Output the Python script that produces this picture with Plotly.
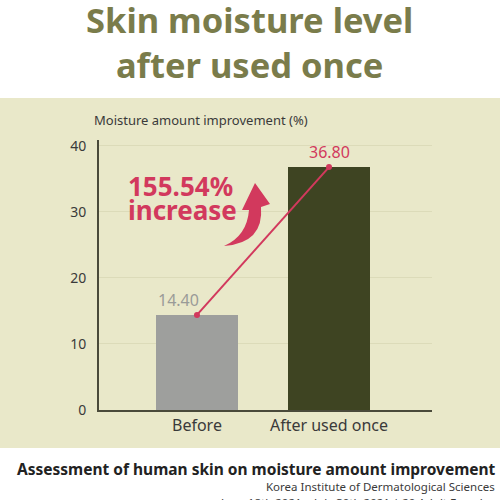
import plotly.graph_objects as go

# Data
categories = ["Before", "After used once"]
values = [14.40, 36.80]
value_labels = ["14.40", "36.80"]
increase_lines = ["155.54%", "increase"]
y_ticks = [0, 10, 20, 30, 40]

# Colours
PANEL = "#e9e8c9"
TITLE = "#7a7c4b"
GRAY_BAR = "#9e9f9d"
DARK_BAR = "#3e4422"
CRIMSON = "#d2395d"
TEXT = "#3a3a3a"

W, H = 500, 500
L, R, T, B = 99, 68, 140, 90
PW, PH = W - L - R, H - T - B


def px(x):
    return (x - L) / PW


def py(y):
    return (H - B - y) / PH


fig = go.Figure()

fig.add_trace(go.Bar(
    x=[0, 1], y=values,
    marker=dict(color=[GRAY_BAR, DARK_BAR], line=dict(width=0)),
    width=0.614, hoverinfo="skip", showlegend=False,
))

# connecting line between bar tops
fig.add_trace(go.Scatter(
    x=[0, 1], y=values, mode="lines+markers",
    line=dict(color=CRIMSON, width=2),
    marker=dict(color=CRIMSON, size=6),
    hoverinfo="skip", showlegend=False,
))

# value labels
fig.add_annotation(x=-0.14, y=values[0], text=value_labels[0], showarrow=False,
                   yanchor="bottom", yshift=2, font=dict(size=16, color="#9a9b98", family="Noto Sans"))
fig.add_annotation(x=1, y=values[1], text=value_labels[1], showarrow=False,
                   yanchor="bottom", yshift=2, font=dict(size=16, color=CRIMSON, family="Noto Sans"))

shapes = [
    # beige panel
    dict(type="rect", xref="paper", yref="paper", x0=px(0), x1=px(500), y0=py(448), y1=py(98),
         fillcolor=PANEL, line=dict(width=0), layer="below"),
    # curved arrow
    dict(type="path", xref="paper", yref="paper",
         path=(f"M {px(224)},{py(246)} "
               f"Q {px(247)},{py(236)} {px(249)},{py(210)} "
               f"L {px(242)},{py(210)} L {px(255)},{py(183)} L {px(270)},{py(204)} "
               f"L {px(261)},{py(207)} "
               f"Q {px(264)},{py(243)} {px(224)},{py(246)} Z"),
         fillcolor=CRIMSON, line=dict(width=0)),
]

annotations = [
    dict(x=px(249), y=py(-6), xref="paper", yref="paper", xanchor="center", yanchor="top",
         text="Skin moisture level<br>after used once", showarrow=False, align="center",
         font=dict(size=34.5, color=TITLE, family="Noto Sans", weight="bold")),
    dict(x=px(92), y=py(131), xref="paper", yref="paper", xanchor="left", yanchor="bottom",
         text="Moisture amount improvement (%)", showarrow=False,
         font=dict(size=13, color=TEXT, family="Noto Sans")),
    dict(x=px(126), y=py(186), xref="paper", yref="paper", xanchor="left", yanchor="middle",
         text=increase_lines[0], showarrow=False,
         font=dict(size=26, color=CRIMSON, family="Noto Sans", weight="bold")),
    dict(x=px(126), y=py(210), xref="paper", yref="paper", xanchor="left", yanchor="middle",
         text=increase_lines[1], showarrow=False,
         font=dict(size=26, color=CRIMSON, family="Noto Sans", weight="bold")),
    dict(x=px(498), y=py(456), xref="paper", yref="paper", xanchor="right", yanchor="top",
         text="Assessment of human skin on moisture amount improvement", showarrow=False,
         font=dict(size=15.5, color="#222222", family="Noto Sans", weight="bold")),
    dict(x=px(497), y=py(477), xref="paper", yref="paper", xanchor="right", yanchor="top",
         text="Korea Institute of Dermatological Sciences", showarrow=False,
         font=dict(size=11.5, color=TEXT, family="Noto Sans")),
    dict(x=px(497), y=py(493), xref="paper", yref="paper", xanchor="right", yanchor="top",
         text="June 18th 2021 ~ July 30th 2021 | 20 Adult Females", showarrow=False,
         font=dict(size=11.5, color=TEXT, family="Noto Sans")),
]

fig.update_layout(
    width=W, height=H,
    margin=dict(l=L, r=R, t=T, b=B, pad=0),
    paper_bgcolor="white", plot_bgcolor="rgba(0,0,0,0)",
    shapes=shapes,
    bargap=0,
)
for a in annotations:
    fig.add_annotation(**a)

fig.update_xaxes(
    range=[-0.742, 1.78], tickvals=[0, 1], ticktext=categories,
    showgrid=False, zeroline=False, showline=True, linecolor="#4a4a3a", linewidth=2,
    ticks="", tickfont=dict(size=16, color=TEXT, family="Noto Sans"),
)
fig.update_yaxes(
    range=[0, 40.9], tickvals=y_ticks, showgrid=True, gridcolor="#dcdbb9", gridwidth=1,
    zeroline=False, showline=True, linecolor="#4a4a3a", linewidth=2, ticks="",
    ticklabelstandoff=8, tickfont=dict(size=14, color=TEXT, family="Noto Sans"),
)

fig.write_html("out.html")
